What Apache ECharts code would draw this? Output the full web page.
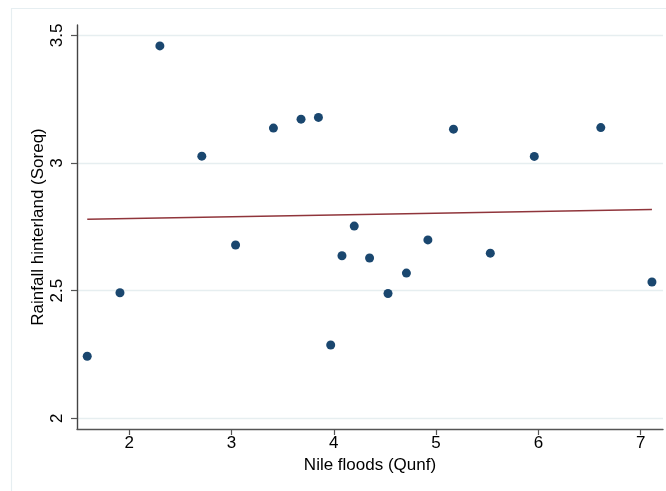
<!DOCTYPE html>
<html>
<head>
<meta charset="utf-8">
<script src="https://cdn.jsdelivr.net/npm/echarts@6/dist/echarts.min.js"></script>
<style>
html,body{margin:0;padding:0;background:#fff;}
#chart{width:666px;height:491px;}
</style>
</head>
<body>
<div id="chart"></div>
<script>
// Nile floods (Qunf) vs rainfall hinterland (Soreq)
var floodsX = [1.59, 1.91, 2.30, 2.71, 3.04, 3.41, 3.68, 3.85, 3.97, 4.08, 4.20, 4.35, 4.53, 4.71, 4.92, 5.17, 5.53, 5.96, 6.61, 7.11];
var rainfallY = [2.243, 2.492, 3.459, 3.027, 2.679, 3.137, 3.172, 3.179, 2.287, 2.637, 2.753, 2.628, 2.489, 2.569, 2.699, 3.133, 2.647, 3.026, 3.139, 2.534];
// fitted line endpoints
var fitX = [1.59, 7.11];
var fitY = [2.780, 2.818];
var xTicks = [2, 3, 4, 5, 6, 7];
var yTicks = [2, 2.5, 3, 3.5];

var font = 'Liberation Sans, Arial, Helvetica, sans-serif';
var chart = echarts.init(document.getElementById('chart'), null, {renderer: 'canvas'});

var points = floodsX.map(function (x, i) { return [x, rainfallY[i]]; });
var fitLine = fitX.map(function (x, i) { return [x, fitY[i]]; });

chart.setOption({
  animation: false,
  backgroundColor: '#ffffff',
  graphic: [{
    type: 'rect',
    shape: {x: 11.5, y: 8.5, width: 700, height: 520},
    style: {fill: 'none', stroke: '#e6eef1', lineWidth: 1.2},
    z: -10
  }],
  grid: {left: 77, right: 3, top: 25, bottom: 62},
  xAxis: {
    type: 'value',
    min: 1.490,
    max: 7.218,
    name: 'Nile floods (Qunf)',
    nameLocation: 'middle',
    nameGap: 28,
    nameMoveOverlap: false,
    nameTextStyle: {color: '#000', fontSize: 17, fontFamily: font},
    axisLine: {show: true, onZero: false, lineStyle: {color: '#555', width: 1.4}},
    axisTick: {show: true, length: 6, customValues: xTicks, lineStyle: {color: '#555', width: 1.2}},
    axisLabel: {customValues: xTicks, margin: 6, color: '#000', fontSize: 17, fontFamily: font},
    splitLine: {show: false}
  },
  yAxis: {
    type: 'value',
    min: 1.958,
    max: 3.541,
    name: 'Rainfall hinterland (Soreq)',
    nameLocation: 'middle',
    nameGap: 30,
    nameMoveOverlap: false,
    nameRotate: 90,
    nameTextStyle: {color: '#000', fontSize: 17, fontFamily: font},
    axisLine: {show: true, onZero: false, lineStyle: {color: '#444', width: 1.4}},
    axisTick: {show: true, length: 6, customValues: yTicks, lineStyle: {color: '#555', width: 1.2}},
    axisLabel: {customValues: yTicks, rotate: 90, margin: 11, color: '#000', fontSize: 17, fontFamily: font},
    splitLine: {show: true, lineStyle: {color: '#e6eef0', width: 1.4}}
  },
  series: [{
    type: 'scatter',
    data: points,
    symbol: 'circle',
    symbolSize: 9,
    itemStyle: {color: '#1a476f', opacity: 1},
    z: 3
  }, {
    type: 'line',
    data: fitLine,
    showSymbol: false,
    symbol: 'none',
    lineStyle: {color: '#90353b', width: 1.4},
    z: 2
  }]
});
</script>
</body>
</html>
